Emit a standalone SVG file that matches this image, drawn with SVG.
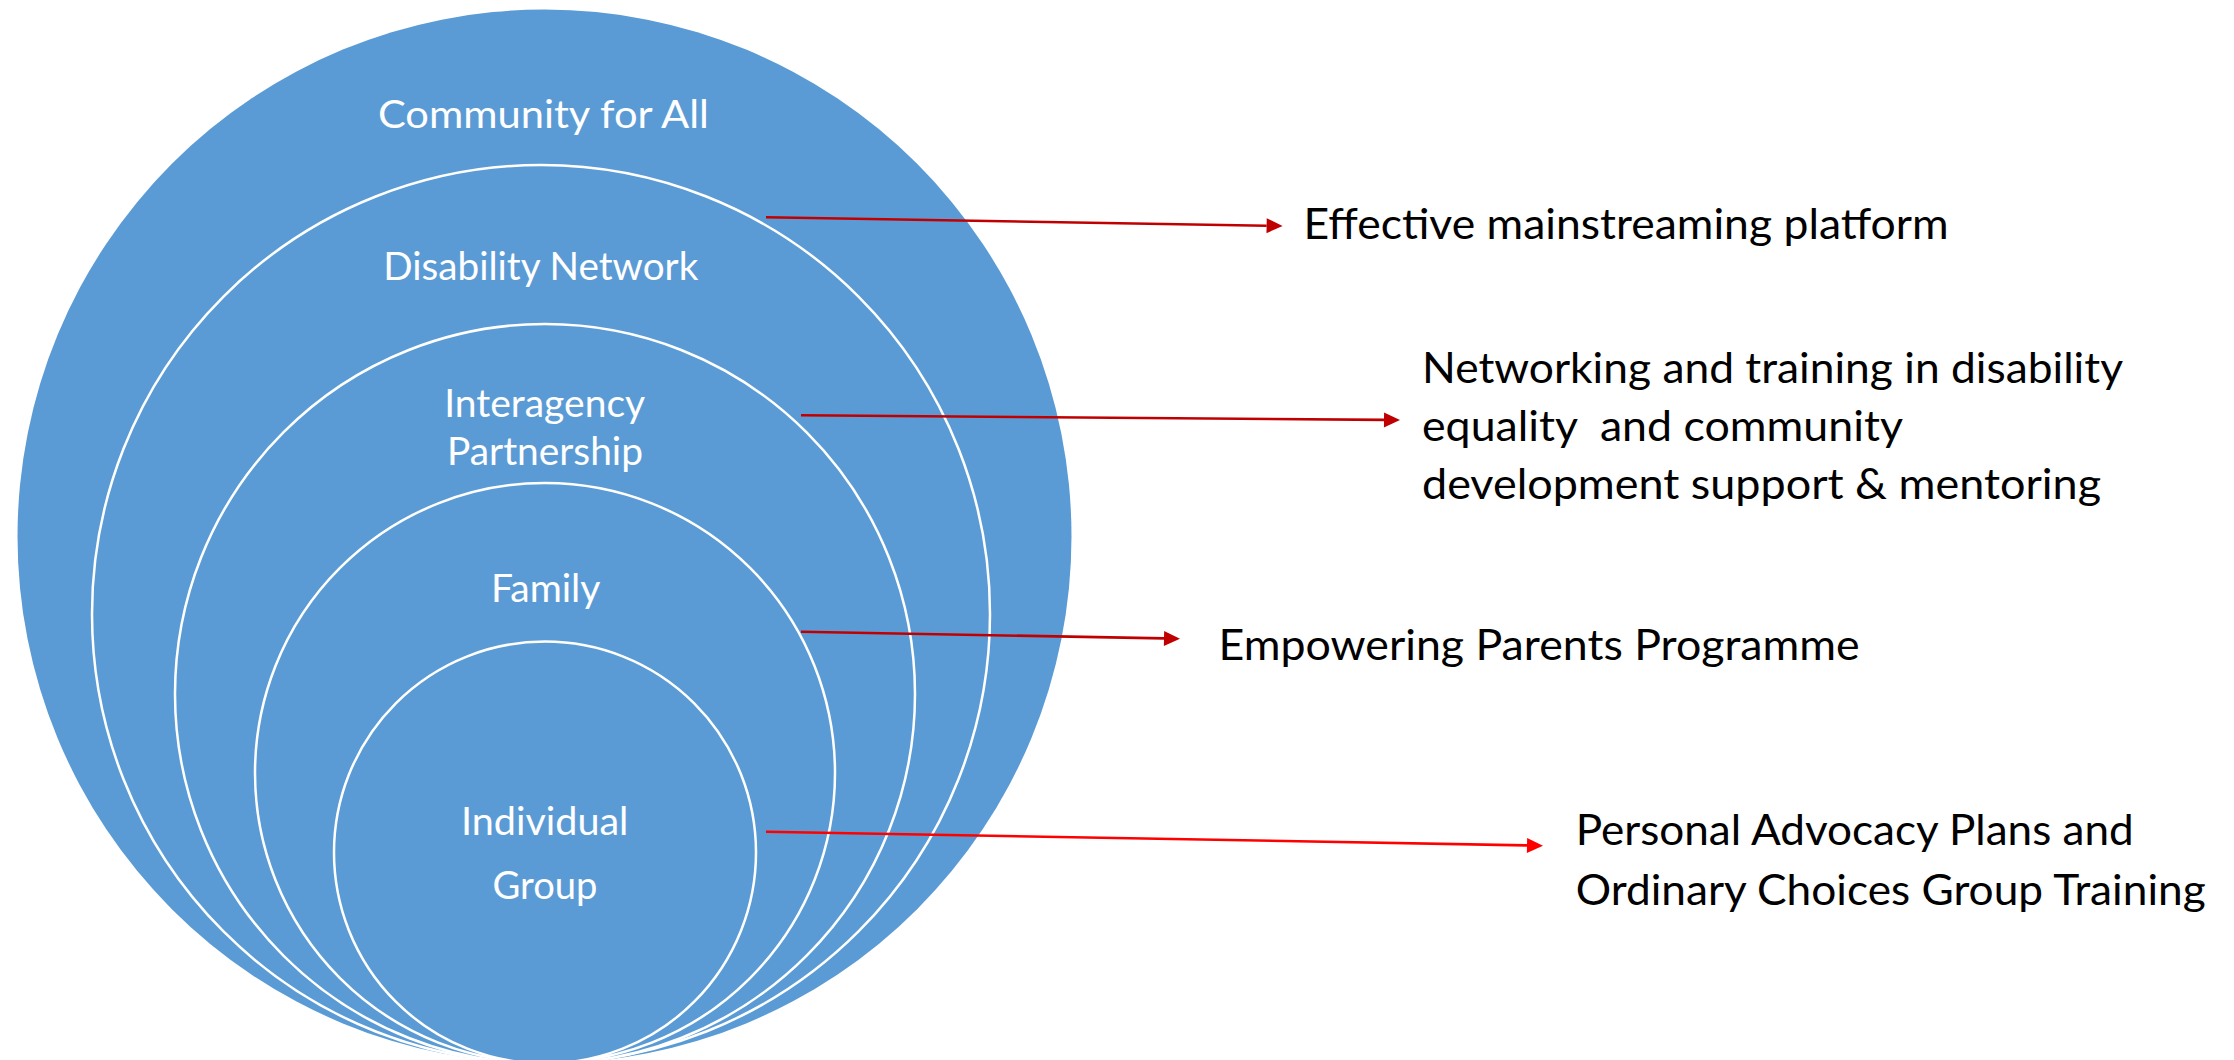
<svg xmlns="http://www.w3.org/2000/svg" width="2234" height="1060" viewBox="0 0 2234 1060">
<style>
.ring{fill:#5B9BD5;stroke:#FFFFFF;stroke-width:2.5}
.lbl{font-family:Lato,"Open Sans","Liberation Sans",sans-serif;fill:#FFFFFF;font-size:39px;text-anchor:middle}
.txt{font-family:Lato,"Open Sans","Liberation Sans",sans-serif;fill:#000000;font-size:43px}
.dk{stroke:#C00000;stroke-width:2.6;fill:none}
.br{stroke:#FF0000;stroke-width:2.6;fill:none}
</style>
<defs>
<marker id="ahd" markerUnits="userSpaceOnUse" markerWidth="17" markerHeight="16" refX="0" refY="7.5" orient="auto" overflow="visible">
<path d="M0,0 L16,7.5 L0,15 z" fill="#C00000"/>
</marker>
<marker id="ahb" markerUnits="userSpaceOnUse" markerWidth="17" markerHeight="16" refX="0" refY="7.5" orient="auto" overflow="visible">
<path d="M0,0 L16,7.5 L0,15 z" fill="#FF0000"/>
</marker>
</defs>
<rect width="2234" height="1060" fill="#FFFFFF"/>
<g id="community">
<circle cx="544.5" cy="536.5" r="527" fill="#5B9BD5"/>
<text class="lbl" x="543.4" y="127.7" font-size="41" textLength="331" lengthAdjust="spacingAndGlyphs">Community for All</text>
</g>
<g id="disability-network">
<circle class="ring" cx="541" cy="614" r="449"/>
<text class="lbl" x="540.8" y="280" textLength="315" lengthAdjust="spacingAndGlyphs">Disability Network</text>
</g>
<g id="interagency">
<circle class="ring" cx="545" cy="694" r="370"/>
<text class="lbl" x="544.7" y="417" textLength="201" lengthAdjust="spacingAndGlyphs">Interagency</text>
<text class="lbl" x="545" y="464.5" textLength="196" lengthAdjust="spacingAndGlyphs">Partnership</text>
</g>
<g id="family">
<circle class="ring" cx="545" cy="773" r="290"/>
<text class="lbl" x="545.7" y="601.7" textLength="109.5" lengthAdjust="spacingAndGlyphs">Family</text>
</g>
<g id="individual-group">
<circle class="ring" cx="545" cy="852.5" r="211"/>
<text class="lbl" x="544.7" y="835" textLength="167.5" lengthAdjust="spacingAndGlyphs">Individual</text>
<text class="lbl" x="545" y="899" textLength="105" lengthAdjust="spacingAndGlyphs">Group</text>
</g>
<g id="connectors">
<line class="dk" x1="766" y1="217.3" x2="1266.6" y2="225.7" marker-end="url(#ahd)"/>
<line class="dk" x1="801" y1="415.3" x2="1384" y2="419.9" marker-end="url(#ahd)"/>
<line class="dk" x1="801" y1="631.7" x2="1164" y2="638.4" marker-end="url(#ahd)"/>
<line class="br" x1="766" y1="831.7" x2="1527" y2="845.4" marker-end="url(#ahb)"/>
</g>
<g id="label-mainstreaming">
<text class="txt" x="1303.6" y="239.3" textLength="645" lengthAdjust="spacingAndGlyphs">Effective mainstreaming platform</text>
</g>
<g id="label-networking">
<text class="txt" x="1422" y="383" textLength="701" lengthAdjust="spacingAndGlyphs">Networking and training in disability</text>
<text class="txt" x="1422" y="441" textLength="481" lengthAdjust="spacingAndGlyphs" xml:space="preserve">equality  and community</text>
<text class="txt" x="1422" y="499" textLength="679" lengthAdjust="spacingAndGlyphs">development support &amp; mentoring</text>
</g>
<g id="label-parents">
<text class="txt" x="1218.6" y="660" textLength="641" lengthAdjust="spacingAndGlyphs">Empowering Parents Programme</text>
</g>
<g id="label-advocacy">
<text class="txt" x="1575.7" y="845" textLength="558" lengthAdjust="spacingAndGlyphs">Personal Advocacy Plans and</text>
<text class="txt" x="1575.7" y="905" textLength="630" lengthAdjust="spacingAndGlyphs">Ordinary Choices Group Training</text>
</g>
</svg>
